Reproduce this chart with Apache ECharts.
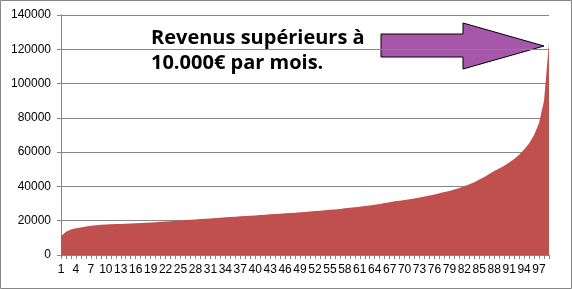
<!DOCTYPE html>
<html>
<head>
<meta charset="utf-8">
<script src="https://cdn.jsdelivr.net/npm/echarts@6/dist/echarts.min.js"></script>
<style>
  html, body { margin: 0; padding: 0; background: #fff; }
  #main { width: 572px; height: 289px; }
</style>
</head>
<body>
<div id="main"></div>
<script>
// revenu par centile (1..99)
var categories = [];
for (var i = 1; i <= 99; i++) categories.push(String(i));

var revenus = [
  11000, 13600, 14900, 15600, 16100, 16600, 17000, 17300, 17600, 17800,
  18000, 18050, 18100, 18250, 18400, 18550, 18700, 18850, 19000, 19150,
  19350, 19550, 19750, 19950, 20150, 20350, 20550, 20750, 20950, 21150,
  21350, 21550, 21750, 21950, 22150, 22350, 22550, 22750, 22900, 23100,
  23300, 23500, 23700, 23900, 24100, 24300, 24500, 24700, 24900, 25100,
  25350, 25600, 25850, 26100, 26350, 26600, 26900, 27200, 27500, 27850,
  28200, 28550, 28900, 29300, 29800, 30300, 30800, 31300, 31700, 32100,
  32500, 32900, 33500, 34100, 34700, 35300, 36000, 36700, 37400, 38200,
  39100, 40100, 41200, 42500, 44000, 45500, 47200, 49000, 50500, 52000,
  54000, 56000, 58500, 61500, 65000, 70000, 77000, 90000, 124000
];

var yTicks = [0, 20000, 40000, 60000, 80000, 100000, 120000, 140000];

var myChart = echarts.init(document.getElementById('main'));
var option = {
  animation: false,
  grid: { left: 61, right: 23, top: 15, bottom: 34 },
  xAxis: {
    type: 'category',
    boundaryGap: false,
    data: categories,
    axisLine: { lineStyle: { color: '#868686' } },
    axisTick: { show: true, interval: 0, length: 4, lineStyle: { color: '#868686' } },
    axisLabel: {
      interval: 2,
      color: '#000',
      fontFamily: 'Liberation Sans',
      fontSize: 12,
      margin: 9
    }
  },
  yAxis: {
    type: 'value',
    min: yTicks[0],
    max: yTicks[yTicks.length - 1],
    interval: 20000,
    axisLine: { show: true, lineStyle: { color: '#868686' } },
    axisTick: { show: true, length: 4, lineStyle: { color: '#868686' } },
    splitLine: { lineStyle: { color: '#868686' } },
    axisLabel: {
      color: '#000',
      fontFamily: 'Liberation Sans',
      fontSize: 12,
      margin: 10,
      formatter: function (v) { return String(v); }
    }
  },
  series: [{
    type: 'line',
    data: revenus,
    symbol: 'none',
    lineStyle: { width: 0 },
    areaStyle: { color: '#C0504D', opacity: 1 },
    z: 1
  }],
  graphic: [
    {
      type: 'rect',
      shape: { x: 0.5, y: 0.5, width: 571, height: 288 },
      style: { fill: 'none', stroke: '#868686', lineWidth: 1 },
      silent: true
    },
    {
      type: 'polygon',
      shape: {
        points: [[381, 34], [463, 34], [463, 23], [544, 46], [463, 69], [463, 57], [381, 57]]
      },
      style: { fill: 'rgba(160,73,163,0.92)', stroke: '#000', lineWidth: 1 }
    },
    {
      type: 'text',
      left: 151,
      top: 28,
      style: {
        text: 'Revenus supérieurs à',
        font: 'bold 20px "Open Sans"',
        fill: '#000'
      }
    },
    {
      type: 'text',
      left: 151,
      top: 53,
      style: {
        text: '10.000€ par mois.',
        font: 'bold 20px "Open Sans"',
        fill: '#000'
      }
    }
  ]
};
myChart.setOption(option);
</script>
</body>
</html>
